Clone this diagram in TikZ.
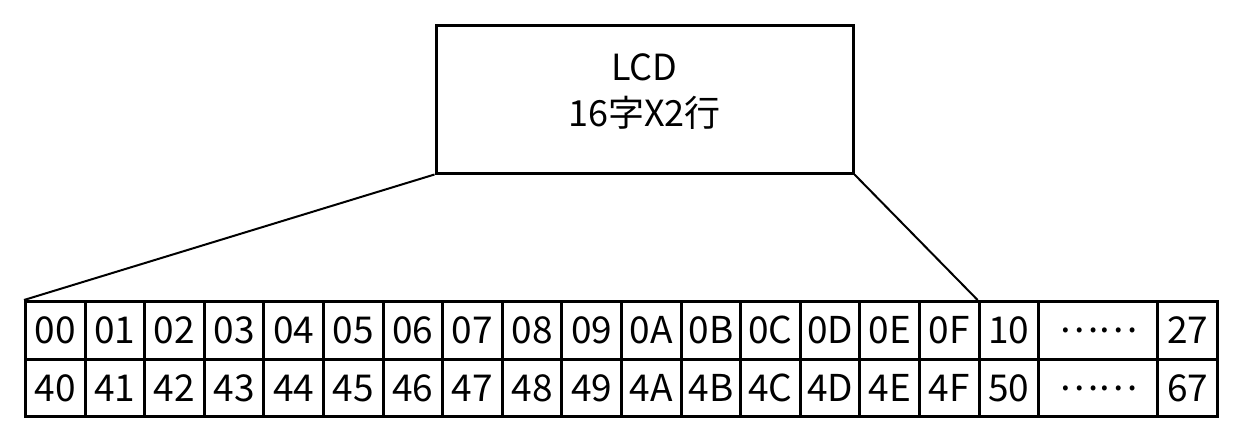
\documentclass[tikz,border=0pt]{standalone}
\usepackage{fontspec}
\setmainfont{Noto Sans CJK JP}
\begin{document}
\begin{tikzpicture}[x=1pt,y=-1pt,
  cell/.style={draw,line width=3pt,rectangle,inner sep=0pt,anchor=north west,
    minimum width=59.6pt,minimum height=57.7pt,
    font=\fontsize{37}{44}\selectfont,text height=27pt,text depth=0pt},
  wide/.style={cell,minimum width=119.2pt},
  lcdbox/.style={draw,line width=3pt,rectangle,minimum width=417pt,minimum height=148pt},
  lcdtext/.style={align=center,font=\fontsize{36}{46}\selectfont,inner sep=0pt},
  conn/.style={line width=2pt}]
\useasboundingbox (0,0) rectangle (1259,434);
\node[lcdbox] (lcd) at (644.5,99) {};
\node[lcdtext] (lcdt) at (644.5,92) {LCD\hspace{22pt}\\16字X2行\hspace{9pt}};
\foreach \t [count=\i from 0] in {00,01,02,03,04,05,06,07,08,09,0A,0B,0C,0D,0E,0F,10}{
  \node[cell] (a\i) at ({24+59.6*\i},300) {\t};
}
\node[wide] (a17) at ({24+59.6*17},300) {\raisebox{11pt}{……}};
\node[cell] (a18) at ({24+59.6*19},300) {27};
\foreach \t [count=\i from 0] in {40,41,42,43,44,45,46,47,48,49,4A,4B,4C,4D,4E,4F,50}{
  \node[cell] (b\i) at ({24+59.6*\i},357.7) {\t};
}
\node[wide] (b17) at ({24+59.6*17},357.7) {\raisebox{11pt}{……}};
\node[cell] (b18) at ({24+59.6*19},357.7) {67};
\draw[conn] (lcd.south west) -- (a0.north west);
\draw[conn] (lcd.south east) -- (a16.north west);
\end{tikzpicture}
\end{document}
